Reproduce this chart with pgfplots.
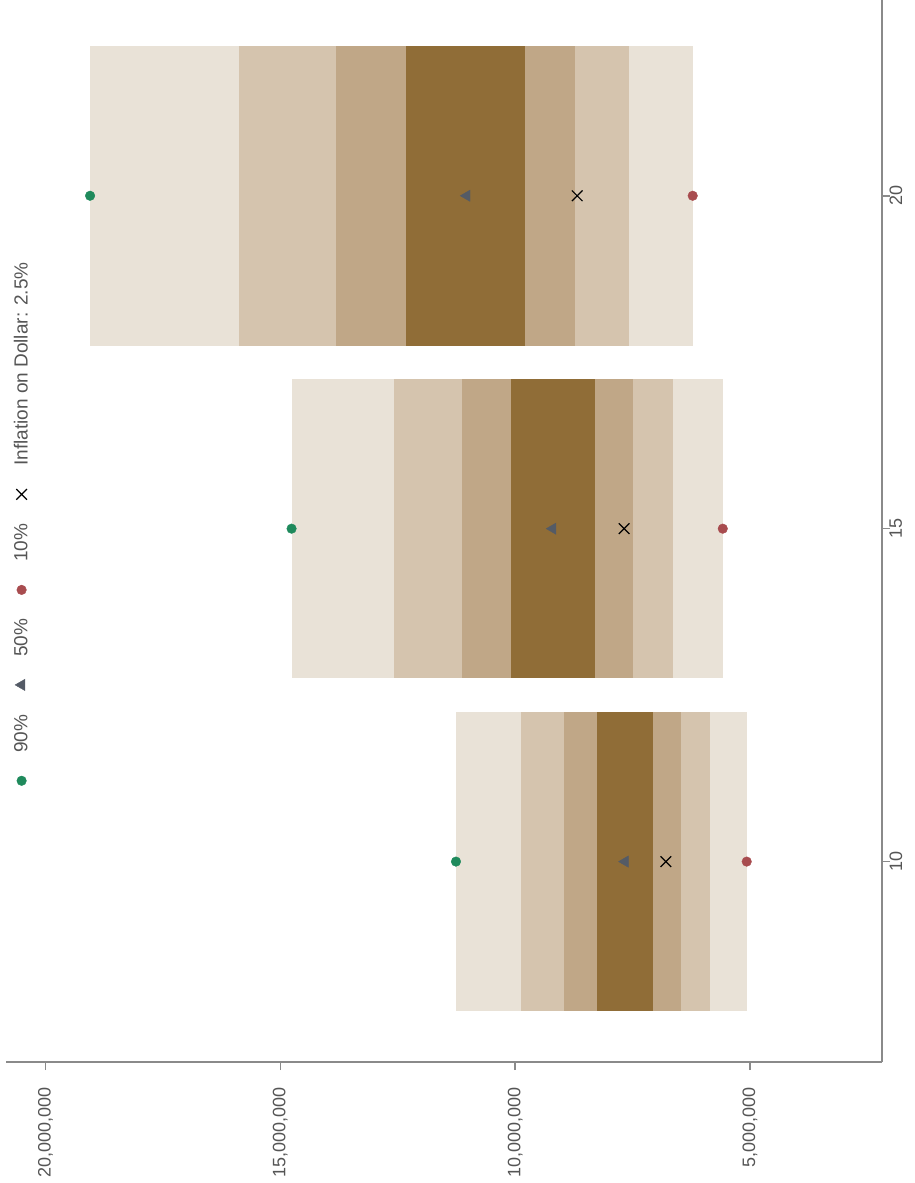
\documentclass[border=0pt]{standalone}
\usepackage{pgfplots}
\pgfplotsset{compat=1.18}
\usepackage{fontspec}
\setmainfont{Liberation Sans}
\definecolor{b1}{HTML}{E9E2D7}
\definecolor{b2}{HTML}{D5C4AE}
\definecolor{b3}{HTML}{C0A787}
\definecolor{b4}{HTML}{906D37}
\definecolor{mgreen}{HTML}{1F8A5C}
\definecolor{mred}{HTML}{A84C4F}
\definecolor{mgray}{HTML}{545B66}
\definecolor{axgray}{HTML}{8A8A8A}
\definecolor{txt}{HTML}{555555}
\pgfplotsset{
  legtext/.style={legend image code/.code={%
    \draw[##1] plot coordinates {(0pt,0pt)};
    \node[rotate=90, anchor=west, inner sep=0pt, text=txt, font=\fontsize{19}{21}\selectfont] at (0pt,28pt) {#1};}},
}
\begin{document}
\begin{tikzpicture}
\useasboundingbox (-6pt,-121pt) rectangle (908pt,1062pt);
\begin{axis}[
  scale only axis, width=876pt, height=1062pt,
  x dir=reverse,
  xmin=2190000, xmax=20840000, ymin=6.99, ymax=22.94,
  axis x line*=bottom, axis y line*=right,
  axis line style={draw=axgray, line width=1.6pt, -},
  tick style={draw=axgray, line width=1.6pt},
  tick align=outside, major tick length=8pt,
  scaled x ticks=false, scaled y ticks=false,
  xtick={5000000,10000000,15000000,20000000},
  xticklabels={{5,000,000},{10,000,000},{15,000,000},{20,000,000}},
  ytick={10,15,20}, yticklabels={10,15,20},
  xticklabel shift=14pt, yticklabel shift=-4pt,
  xticklabel style={rotate=90, anchor=east, font=\fontsize{18}{20}\selectfont, text=txt},
  yticklabel style={rotate=90, anchor=north, font=\fontsize{18}{20}\selectfont, text=txt},
  reverse legend,
  legend style={draw=none, fill=none, inner sep=0pt, row sep=24pt,
    nodes={inner sep=0pt},
    at={(axis description cs:0.0089,0.2601)}, anchor=south west},
  clip=false,
]
% year 10
\addplot[fill=b1, draw=none, forget plot] coordinates {(5070000,7.75) (11260000,7.75) (11260000,12.25) (5070000,12.25)} -- cycle;
\addplot[fill=b2, draw=none, forget plot] coordinates {(5850000,7.75) (9880000,7.75) (9880000,12.25) (5850000,12.25)} -- cycle;
\addplot[fill=b3, draw=none, forget plot] coordinates {(6470000,7.75) (8960000,7.75) (8960000,12.25) (6470000,12.25)} -- cycle;
\addplot[fill=b4, draw=none, forget plot] coordinates {(7070000,7.75) (8260000,7.75) (8260000,12.25) (7070000,12.25)} -- cycle;
% year 15
\addplot[fill=b1, draw=none, forget plot] coordinates {(5570000,12.75) (14750000,12.75) (14750000,17.25) (5570000,17.25)} -- cycle;
\addplot[fill=b2, draw=none, forget plot] coordinates {(6630000,12.75) (12580000,12.75) (12580000,17.25) (6630000,17.25)} -- cycle;
\addplot[fill=b3, draw=none, forget plot] coordinates {(7490000,12.75) (11130000,12.75) (11130000,17.25) (7490000,17.25)} -- cycle;
\addplot[fill=b4, draw=none, forget plot] coordinates {(8300000,12.75) (10090000,12.75) (10090000,17.25) (8300000,17.25)} -- cycle;
% year 20
\addplot[fill=b1, draw=none, forget plot] coordinates {(6220000,17.75) (19050000,17.75) (19050000,22.25) (6220000,22.25)} -- cycle;
\addplot[fill=b2, draw=none, forget plot] coordinates {(7570000,17.75) (15870000,17.75) (15870000,22.25) (7570000,22.25)} -- cycle;
\addplot[fill=b3, draw=none, forget plot] coordinates {(8730000,17.75) (13810000,17.75) (13810000,22.25) (8730000,22.25)} -- cycle;
\addplot[fill=b4, draw=none, forget plot] coordinates {(9780000,17.75) (12330000,17.75) (12330000,22.25) (9780000,22.25)} -- cycle;
% markers
\addplot[only marks, mark=*, mark size=4.8pt, color=mgreen, legtext={90\%}] coordinates {(11260000,10) (14760000,15) (19050000,20)};
\addlegendentry{}
\addplot[only marks, mark=triangle*, mark size=6.5pt, color=mgray, mark options={rotate=90}, legtext={50\%}] coordinates {(7660000,10) (9200000,15) (11030000,20)};
\addlegendentry{}
\addplot[only marks, mark=*, mark size=4.8pt, color=mred, legtext={10\%}] coordinates {(5070000,10) (5580000,15) (6220000,20)};
\addlegendentry{}
\addplot[only marks, mark=x, mark size=7.5pt, color=black, line width=1.2pt, legtext={Inflation on Dollar: 2.5\%}] coordinates {(6790000,10) (7680000,15) (8680000,20)};
\addlegendentry{}
\end{axis}
\end{tikzpicture}
\end{document}
